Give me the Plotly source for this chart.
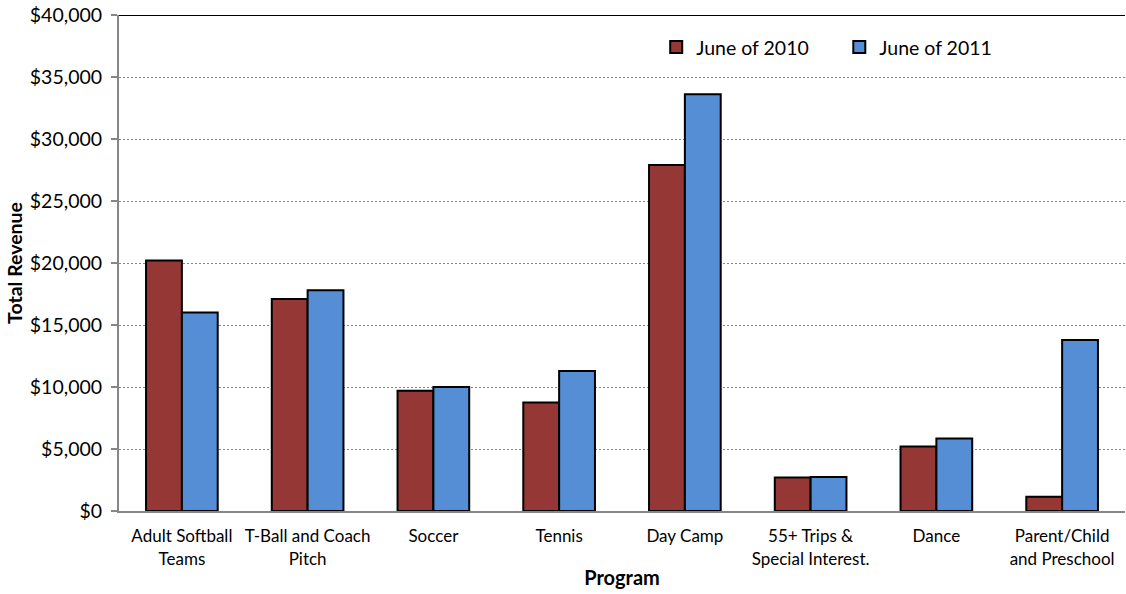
import plotly.graph_objects as go

programs = [
    "Adult Softball<br>Teams",
    "T-Ball and Coach<br>Pitch",
    "Soccer",
    "Tennis",
    "Day Camp",
    "55+ Trips &<br>Special Interest.",
    "Dance",
    "Parent/Child<br>and Preschool",
]
revenue_2010 = [20200, 17100, 9700, 8750, 27900, 2700, 5200, 1150]
revenue_2011 = [16000, 17800, 10000, 11300, 33600, 2750, 5850, 13800]

tick_vals = [0, 5000, 10000, 15000, 20000, 25000, 30000, 35000, 40000]
tick_text = ["$0", "$5,000", "$10,000", "$15,000", "$20,000", "$25,000",
             "$30,000", "$35,000", "$40,000"]

FONT = "Lato, Carlito, Calibri, sans-serif"
RED = "#953735"
BLUE = "#558ED5"
GRAY = "#868686"

fig = go.Figure()
fig.add_trace(go.Bar(
    x=programs, y=revenue_2010, name="June of 2010",
    marker=dict(color=RED, line=dict(color="black", width=2)),
    legend="legend", showlegend=True,
))
fig.add_trace(go.Bar(
    x=programs, y=revenue_2011, name="June of 2011",
    marker=dict(color=BLUE, line=dict(color="black", width=2)),
    legend="legend2", showlegend=True,
))

# solid top border at the axis maximum
fig.add_shape(type="line", xref="paper", yref="y", x0=0, x1=1,
              y0=40000, y1=40000, line=dict(color="black", width=2))

legend_common = dict(
    orientation="h", yanchor="middle", xanchor="left",
    bgcolor="rgba(0,0,0,0)", font=dict(family=FONT, size=19.5, color="black"),
    itemwidth=30,
)

fig.update_layout(
    width=1126, height=594,
    margin=dict(l=119, r=1, t=15, b=83),
    plot_bgcolor="white", paper_bgcolor="white",
    showlegend=True,
    barmode="group", bargap=0.43, bargroupgap=0,
    font=dict(family=FONT, size=15, color="black"),
    legend=dict(x=0.534, y=0.935, **legend_common),
    legend2=dict(x=0.716, y=0.935, **legend_common),
    xaxis=dict(
        showline=True, linecolor=GRAY, linewidth=2,
        ticks="", showgrid=False, ticklabelstandoff=9,
        tickfont=dict(family=FONT, size=17, color="black"),
        title=dict(text="<b>Program</b>", font=dict(family=FONT, size=20), standoff=3),
    ),
    yaxis=dict(
        range=[0, 40000], tickvals=tick_vals, ticktext=tick_text,
        showline=True, linecolor=GRAY, linewidth=2,
        ticks="outside", ticklen=6, tickcolor=GRAY, tickwidth=2,
        ticklabelstandoff=5,
        showgrid=True, gridcolor=GRAY, griddash="2px,2px", gridwidth=1,
        zeroline=False,
        tickfont=dict(family=FONT, size=19.5, color="black"),
        title=dict(text="<b>Total Revenue</b>", font=dict(family=FONT, size=19.5), standoff=2),
    ),
)

fig.write_html("out.html")
